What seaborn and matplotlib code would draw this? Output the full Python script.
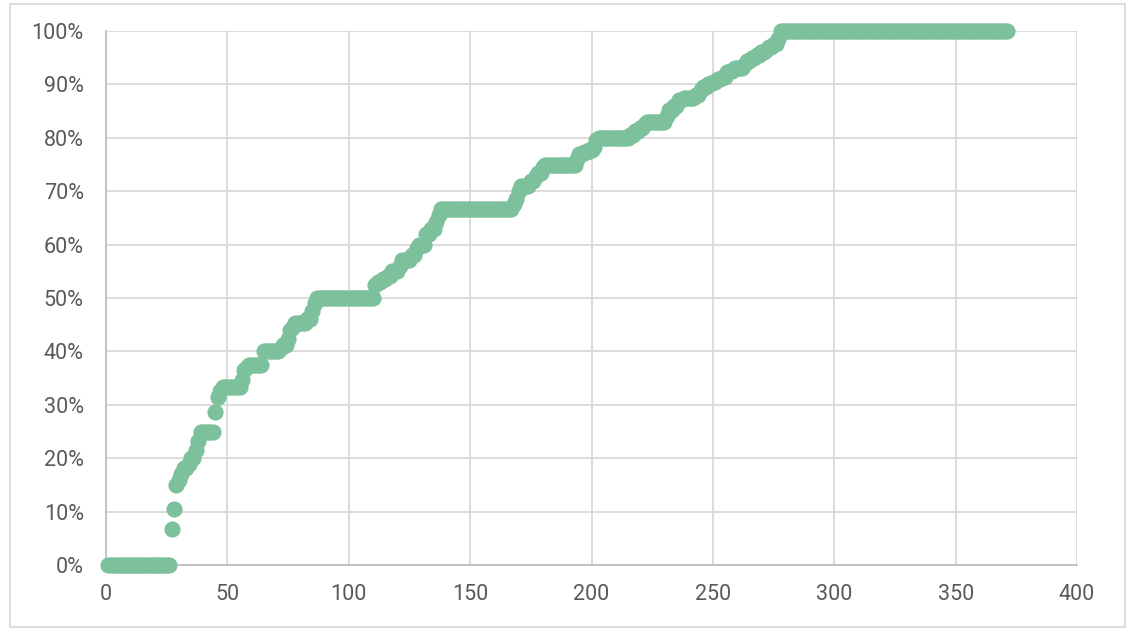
import numpy as np
import pandas as pd
import matplotlib
matplotlib.use("Agg")
import matplotlib.pyplot as plt
import seaborn as sns
from matplotlib.ticker import PercentFormatter, MultipleLocator
from matplotlib.patches import Rectangle

# Step levels: first x of each level and its percentage
step_x = [1, 27, 28, 29, 30, 31, 32, 34, 35, 37, 38, 39, 45, 46, 47, 48, 56, 57, 58, 59,
          65, 72, 73, 75, 76, 77, 78, 83, 85, 86, 87, 111, 112, 114, 116, 118, 121, 122,
          126, 128, 129, 132, 134, 136, 137, 138, 168, 169, 170, 171, 175, 177, 178, 180,
          181, 194, 195, 197, 199, 201, 202, 203, 216, 218, 220, 222, 223, 231, 232, 234,
          236, 238, 243, 245, 246, 248, 250, 252, 254, 256, 257, 259, 263, 264, 266, 268,
          270, 272, 273, 275, 277, 278]
step_pct = [0.0, 6.7, 10.5, 15.0, 16.0, 17.0, 18.2, 19.0, 20.0, 21.5, 23.3, 25.0, 28.6,
            31.5, 32.5, 33.3, 34.6, 36.5, 37.0, 37.5, 40.0, 40.7, 41.2, 42.3, 44.0, 44.5,
            45.3, 46.0, 47.5, 49.0, 50.0, 52.4, 53.0, 53.6, 54.2, 55.0, 56.0, 57.1, 58.0,
            59.3, 60.0, 62.0, 62.9, 64.3, 65.5, 66.7, 67.6, 68.5, 70.0, 71.0, 72.0, 72.8,
            73.5, 74.5, 75.0, 76.0, 76.9, 77.4, 77.8, 78.3, 79.6, 80.0, 80.6, 81.2, 81.8,
            82.6, 83.0, 84.0, 85.2, 86.0, 87.0, 87.5, 88.0, 88.9, 89.6, 90.0, 90.5, 91.0,
            91.4, 92.3, 92.6, 93.0, 93.6, 94.3, 95.0, 95.5, 96.0, 96.4, 97.0, 97.6, 98.5,
            100.0]
last_x = 371

xs, ys = [], []
ends = step_x[1:] + [last_x + 1]
for s, e, p in zip(step_x, ends, step_pct):
    for x in range(s, e):
        xs.append(x)
        ys.append(p / 100.0)
df = pd.DataFrame({"x": xs, "y": ys})

sns.set_theme(style="white")
plt.rcParams['font.family'] = ['Roboto', 'DejaVu Sans']

fig = plt.figure(figsize=(11.34, 6.33), dpi=100)
ax = fig.add_axes([106/1134, 1 - 565/633, (1077-106)/1134, (565-31)/633])

sns.scatterplot(data=df, x="x", y="y", ax=ax, color="#7cc09c", s=135,
                linewidth=0, clip_on=False, zorder=3)

ax.set_xlim(0, 400)
ax.set_ylim(0, 1)
ax.xaxis.set_major_locator(MultipleLocator(50))
ax.yaxis.set_major_locator(MultipleLocator(0.1))
ax.yaxis.set_major_formatter(PercentFormatter(1.0, decimals=0))
ax.grid(True, color="#d9d9d9", linewidth=1.3)
ax.set_axisbelow(True)
ax.set_xlabel("")
ax.set_ylabel("")
for side in ["top", "right"]:
    ax.spines[side].set_visible(False)
for side in ["left", "bottom"]:
    ax.spines[side].set_color("#bfbfbf")
    ax.spines[side].set_linewidth(1.3)
    ax.spines[side].set_zorder(2)
ax.tick_params(axis="both", length=0, labelsize=15.5, labelcolor="#595959")
ax.tick_params(axis="x", pad=14)
ax.tick_params(axis="y", pad=16)

fig.patches.append(Rectangle((10/1134, 1 - 627/633), (1125-10)/1134, (627-4)/633,
                             transform=fig.transFigure, fill=False,
                             edgecolor="#d9d9d9", linewidth=1.3))

fig.savefig("out.png", dpi=100)
